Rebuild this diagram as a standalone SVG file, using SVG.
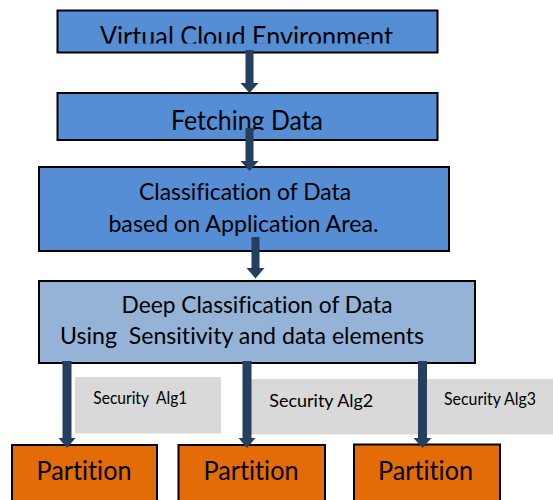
<svg xmlns="http://www.w3.org/2000/svg" width="553" height="500" viewBox="0 0 553 500">
<style>
.box{stroke:#000;stroke-width:2}
.b1{fill:#558ED5}
.b2{fill:#95B3D7}
.part{fill:#E36C09}
.note{fill:#D9D9D9}
.t{font-family:Lato,"Liberation Sans",sans-serif;fill:#000;text-anchor:middle;font-variant-ligatures:none}
.s{font-family:Lato,"Liberation Sans",sans-serif;fill:#000;font-variant-ligatures:none}
.arr{fill:#243F60}
</style>
<defs>
<clipPath id="c1"><rect x="57" y="10" width="381" height="33.5"/></clipPath>
<clipPath id="c2"><rect x="57" y="93" width="381" height="37"/></clipPath>
</defs>
<rect width="553" height="500" fill="#fff"/>
<g id="n-virtual">
<rect class="box b1" x="57.5" y="10.5" width="380" height="42"/>
<text class="t" x="246.5" y="46" font-size="26" textLength="293" lengthAdjust="spacingAndGlyphs" clip-path="url(#c1)">Virtual Cloud Environment</text>
</g>
<g id="n-fetch">
<rect class="box b1" x="57.5" y="93" width="380" height="47"/>
<text class="t" x="247" y="129.5" font-size="26" textLength="152" lengthAdjust="spacingAndGlyphs" clip-path="url(#c2)">Fetching Data</text>
</g>
<g id="n-class">
<rect class="box b1" x="39" y="167" width="410" height="84"/>
<text class="t" x="245" y="200" font-size="22.5" textLength="212" lengthAdjust="spacingAndGlyphs">Classification of Data</text>
<text class="t" x="243.4" y="231.7" font-size="22.5" textLength="270" lengthAdjust="spacingAndGlyphs">based on Application Area.</text>
</g>
<g id="n-deep">
<rect class="box b2" x="39" y="281" width="436" height="82"/>
<text class="t" x="257" y="313.3" font-size="22.5" textLength="271" lengthAdjust="spacingAndGlyphs">Deep Classification of Data</text>
<text class="t" x="242" y="344.3" font-size="22.5" textLength="364" lengthAdjust="spacingAndGlyphs" xml:space="preserve">Using  Sensitivity and data elements</text>
</g>
<g id="n-alg1">
<rect class="note" x="75" y="377" width="146" height="56.5"/>
<text class="s" x="93.3" y="404" font-size="16.5" textLength="94" lengthAdjust="spacingAndGlyphs" xml:space="preserve">Security  Alg1</text>
</g>
<g id="n-alg2">
<rect class="note" x="250" y="379" width="180" height="55.5"/>
<text class="s" x="269.3" y="407.3" font-size="18" textLength="104" lengthAdjust="spacingAndGlyphs">Security Alg2</text>
</g>
<g id="n-alg3">
<rect class="note" x="425" y="379" width="128" height="55.5"/>
<text class="s" x="444" y="405" font-size="16.5" textLength="92" lengthAdjust="spacingAndGlyphs">Security Alg3</text>
</g>
<g id="n-p1">
<rect class="box part" x="12" y="445" width="145" height="60"/>
<text class="t" x="84" y="480" font-size="26.5" textLength="95" lengthAdjust="spacingAndGlyphs">Partition</text>
</g>
<g id="n-p2">
<rect class="box part" x="178.5" y="445" width="146.5" height="60"/>
<text class="t" x="251" y="480" font-size="26.5" textLength="95" lengthAdjust="spacingAndGlyphs">Partition</text>
</g>
<g id="n-p3">
<rect class="box part" x="354" y="444.5" width="146" height="60"/>
<text class="t" x="425.5" y="480" font-size="26.5" textLength="95" lengthAdjust="spacingAndGlyphs">Partition</text>
</g>
<g id="connectors">
<polygon class="arr" points="245.5,50 253.5,50 253.5,83 258.5,83 249.5,93 240.5,83 245.5,83"/>
<polygon class="arr" points="245.5,128 253.5,128 253.5,161 258.5,161 249.5,171 240.5,161 245.5,161"/>
<polygon class="arr" points="251.5,237 259.5,237 259.5,268 264.5,268 255.5,278.5 246.5,268 251.5,268"/>
<polygon class="arr" points="62.5,361 71.5,361 71.5,438 75.5,438 67,448 58.5,438 62.5,438"/>
<polygon class="arr" points="242.5,361 251.5,361 251.5,438 255.5,438 247,448 238.5,438 242.5,438"/>
<polygon class="arr" points="418,361 427,361 427,438 431.5,438 422.5,448 413.5,438 418,438"/>
</g>
</svg>
